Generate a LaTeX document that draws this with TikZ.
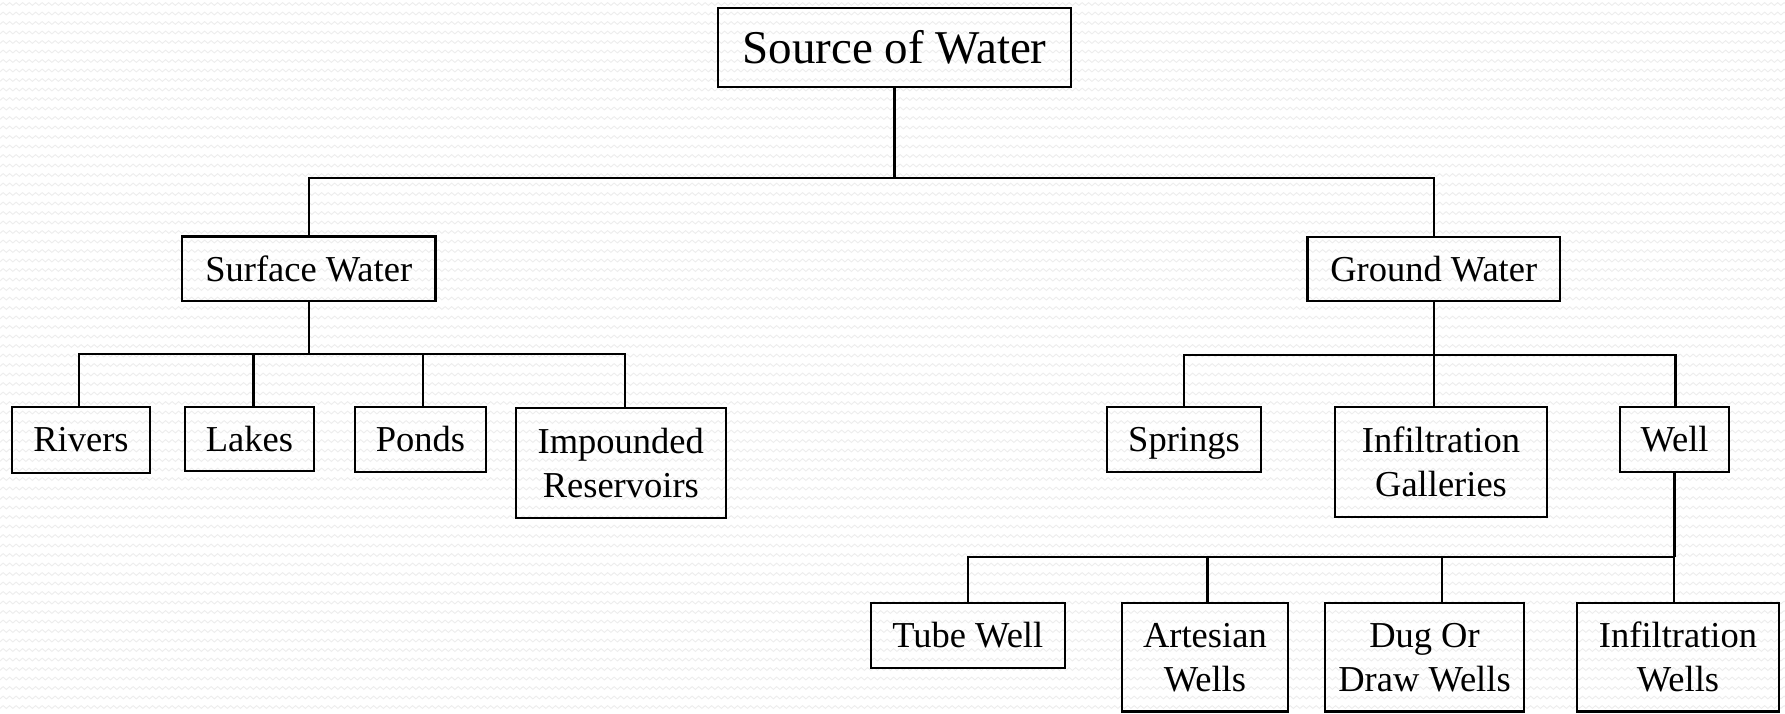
\documentclass[tikz,border=0pt]{standalone}
\usepackage{fontspec}
\setmainfont{Liberation Serif}
\usetikzlibrary{decorations.pathmorphing}
\tikzset{
  box/.style={draw=black, line width=2.2pt, inner sep=0pt, align=center, font=\fontsize{36.5}{44}\selectfont},
  conn/.style={draw=black, line width=2.2pt, line join=miter},
  bgzig/.style={draw=black!7, line width=0.9pt, decorate, decoration={zigzag, segment length=6.5pt, amplitude=1.4pt}}
}
\begin{document}
\begin{tikzpicture}[x=1pt,y=-1pt]
\fill[white] (0,0) rectangle (1785,713);
\useasboundingbox (0,0) rectangle (1785,713);
\foreach \r in {0,...,75} { \draw[bgzig] (-5,{\r*9.5+4}) -- (1790,{\r*9.5+4}); }

% boxes
\node[box, minimum width=353pt, minimum height=79pt, font=\fontsize{47}{56}\selectfont] (src) at (894.5,47.5) {Source of Water};
\node[box, minimum width=253.5pt, minimum height=64.5pt] (surf) at (308.75,268.75) {Surface Water};
\node[box, minimum width=252.5pt, minimum height=64.3pt] (ground) at (1433.75,268.85) {Ground Water};

\node[box, minimum width=138pt, minimum height=66pt] (rivers) at (81,440) {Rivers};
\node[box, minimum width=129pt, minimum height=64pt] (lakes) at (249.5,439) {Lakes};
\node[box, minimum width=131pt, minimum height=65pt] (ponds) at (420.5,439.5) {Ponds};
\node[box, minimum width=210.4pt, minimum height=110pt] (imp) at (620.8,463) {Impounded\\Reservoirs};

\node[box, minimum width=154pt, minimum height=65pt, text depth=0pt] (springs) at (1184,439.8) {Springs};
\node[box, minimum width=211.3pt, minimum height=110pt] (gal) at (1441,462.3) {Infiltration\\Galleries};
\node[box, minimum width=109.7pt, minimum height=64.7pt] (well) at (1674.5,439.4) {Well};

\node[box, minimum width=193.8pt, minimum height=64.4pt] (tube) at (967.8,635.5) {Tube Well};
\node[box, minimum width=166.3pt, minimum height=108.5pt] (art) at (1204.9,657.3) {Artesian\\Wells};
\node[box, minimum width=198.5pt, minimum height=108.5pt] (dug) at (1424.5,657.3) {Dug Or\\Draw Wells};
\node[box, minimum width=202pt, minimum height=108.5pt] (infw) at (1678,657.3) {Infiltration\\Wells};

% bar coordinates
\coordinate (topbar) at (0,177.6);
\coordinate (rv) at (79,354);
\coordinate (lk) at (253.5,354);
\coordinate (pd) at (423,354);
\coordinate (im) at (625,354);
\coordinate (sp) at (1184.3,355.3);
\coordinate (gl) at (1434,355.3);
\coordinate (wl) at (1675.5,355.3);
\coordinate (tw) at (968,556.7);
\coordinate (ar) at (1207.5,556.7);
\coordinate (dg) at (1442,556.7);
\coordinate (iw) at (1674,556.7);

% connectors
\draw[conn] (src.south) -- (src.south |- topbar);
\draw[conn] (surf.north) -- (surf.north |- topbar) -- (ground.north |- topbar) -- (ground.north);

\draw[conn] (surf.south) -- (surf.south |- rv);
\draw[conn] (rv |- rivers.north) -- (rv) -- (im) -- (im |- imp.north);
\draw[conn] (lk) -- (lk |- lakes.north);
\draw[conn] (pd) -- (pd |- ponds.north);

\draw[conn] (ground.south) -- (ground.south |- sp);
\draw[conn] (sp |- springs.north) -- (sp) -- (wl) -- (wl |- well.north);
\draw[conn] (gl) -- (gl |- gal.north);

\draw[conn] (well.south) -- (well.south |- tw);
\draw[conn] (tw |- tube.north) -- (tw) -- (iw) -- (iw |- infw.north);
\draw[conn] (ar) -- (ar |- art.north);
\draw[conn] (dg) -- (dg |- dug.north);
\end{tikzpicture}
\end{document}
